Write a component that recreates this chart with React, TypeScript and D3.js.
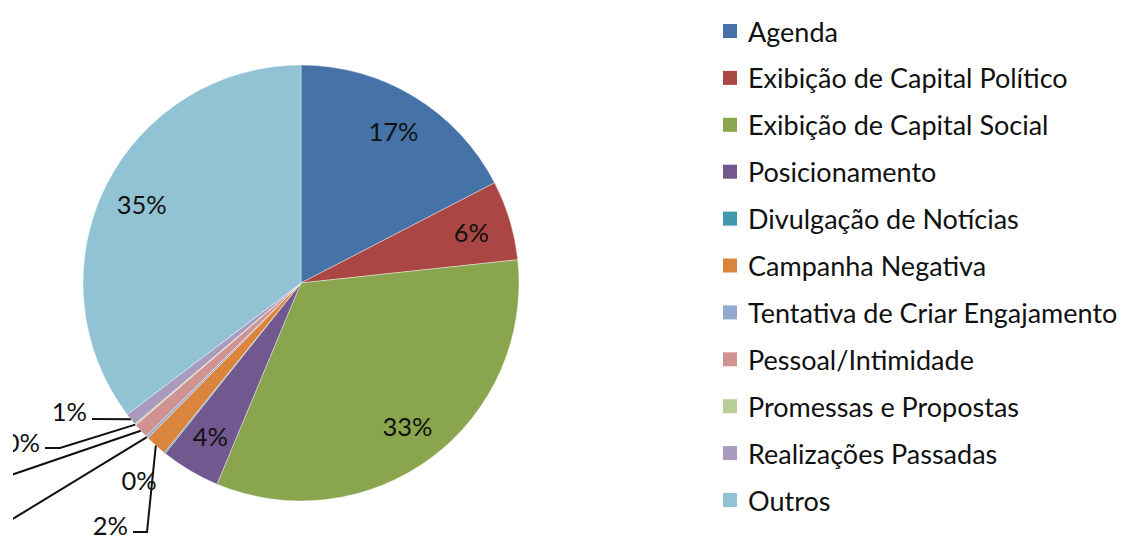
import React from 'react';
import * as d3 from 'd3';

const categories = [
  'Agenda',
  'Exibição de Capital Político',
  'Exibição de Capital Social',
  'Posicionamento',
  'Divulgação de Notícias',
  'Campanha Negativa',
  'Tentativa de Criar Engajamento',
  'Pessoal/Intimidade',
  'Promessas e Propostas',
  'Realizações Passadas',
  'Outros',
];
const values = [17.4, 5.9, 33.0, 4.4, 0.1, 1.6, 0.2, 1.1, 0.1, 0.9, 35.3];
const colors = [
  '#4572A7', '#AA4643', '#89A54E', '#71588F', '#4198AF', '#DB843D',
  '#93A9CF', '#D19392', '#B9CD96', '#A99BBD', '#92C3D4',
];

// label layout for slices drawn with leader lines (outside the pie)
type Ext = { lx: number; ly: number; anchor: string; path: [number, number][] | null };
const outside: Record<number, Ext> = {
  4: { lx: 139, ly: 480, anchor: 'middle', path: null },
  5: { lx: 128, ly: 524.5, anchor: 'end', path: [[147, 532], [133, 532]] },
  6: { lx: -40, ly: 545, anchor: 'end', path: [[-30, 545]] },
  7: { lx: -40, ly: 490, anchor: 'end', path: [[-30, 489]] },
  8: { lx: 40, ly: 442, anchor: 'end', path: [[60, 448], [45, 448]] },
  9: { lx: 87, ly: 411, anchor: 'end', path: [[92, 419]] },
};

const W = 1126;
const H = 539;
const cx = 301;
const cy = 283;
const R = 218;
const FONT = 'Lato, "Open Sans", sans-serif';

export default function App() {
  const data = categories.map((c, i) => ({ name: c, value: values[i], color: colors[i], i }));
  const pie = d3.pie<any>().sort(null).value((d: any) => d.value);
  const arcs = pie(data);
  const arc = d3.arc<any>().innerRadius(0).outerRadius(R);
  const labelArc = d3.arc<any>().innerRadius(178).outerRadius(178);
  const edgeArc = d3.arc<any>().innerRadius(R).outerRadius(R);
  const total = d3.sum(values);
  const fmt = (v: number) => `${Math.round((v / total) * 100)}%`;
  const legendY = d3.scaleLinear().domain([0, categories.length - 1]).range([31, 500]);

  return (
    <svg
      width={W}
      height={H}
      style={{ position: 'absolute', left: 0, top: 0, background: '#fff' }}
      fontFamily={FONT}
    >
      <defs>
        <clipPath id="plotClip">
          <rect x={13} y={0} width={W - 13} height={H} />
        </clipPath>
      </defs>
      <g clipPath="url(#plotClip)">
        <g transform={`translate(${cx},${cy})`}>
          {arcs.map((a, k) => (
            <path key={k} d={arc(a) as string} fill={a.data.color} stroke="#fff" strokeWidth={0.4} />
          ))}
        </g>
        {arcs.map((a, k) => {
          const ext = outside[a.data.i];
          if (!ext) {
            const [x, y] = labelArc.centroid(a);
            return (
              <text key={k} x={cx + x} y={cy + y} textAnchor="middle" dominantBaseline="central" fontSize={25.5} fill="#111">
                {fmt(a.data.value)}
              </text>
            );
          }
          const [ex, ey] = edgeArc.centroid(a);
          const pts: [number, number][] = ext.path ? [[cx + ex, cy + ey], ...ext.path] : [];
          return (
            <g key={k}>
              {pts.length > 0 && (
                <path d={d3.line()(pts) as string} fill="none" stroke="#111" strokeWidth={2} />
              )}
              <text x={ext.lx} y={ext.ly} textAnchor={ext.anchor} dominantBaseline="central" fontSize={25.5} fill="#111">
                {fmt(a.data.value)}
              </text>
            </g>
          );
        })}
      </g>
      {data.map((d, i) => (
        <g key={i} transform={`translate(723,${legendY(i)})`}>
          <rect x={0} y={-7} width={14} height={14} fill={d.color} />
          <text x={25} y={0} dominantBaseline="central" fontSize={27} fill="#111">
            {d.name}
          </text>
        </g>
      ))}
    </svg>
  );
}
